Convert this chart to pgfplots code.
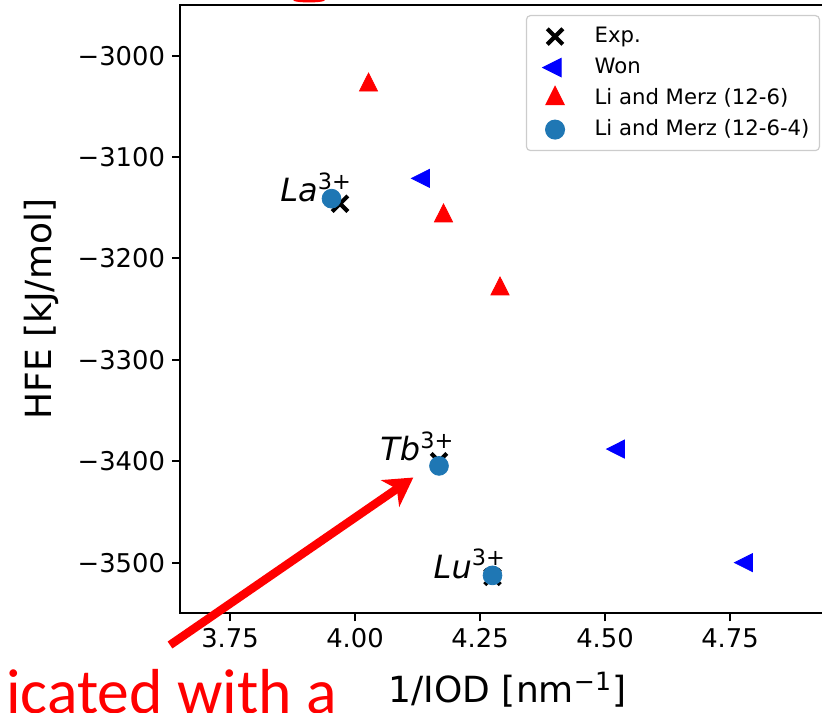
\documentclass[border=0pt]{standalone}
\usepackage{pgfplots}
\pgfplotsset{compat=1.18}
\usepackage{fontspec}
\setmainfont{DejaVu Sans}[ItalicFont={DejaVu Sans Oblique}]
\newfontfamily\carlito{Carlito}
\usetikzlibrary{arrows.meta}
\definecolor{mplblue}{HTML}{1F77B4}
\definecolor{legendgray}{HTML}{CCCCCC}
\begin{document}
\begin{tikzpicture}
\begin{axis}[
  at={(90pt,-306.65pt)}, anchor=south west,
  scale only axis, width=324pt, height=304.15pt,
  xmin=3.65, xmax=4.946, ymin=-3550, ymax=-2950,
  xtick={3.75,4.00,4.25,4.50,4.75},
  xticklabels={3.75,4.00,4.25,4.50,4.75},
  ytick={-3500,-3400,-3300,-3200,-3100,-3000},
  yticklabels={−3500,−3400,−3300,−3200,−3100,−3000},
  tick align=outside, major tick length=4pt,
  xtick pos=bottom, ytick pos=left,
  tick style={line width=1pt, black},
  axis line style={line width=1.1pt},
  ticklabel style={font=\fontsize{12.9}{15}\selectfont},
  xlabel={1/IOD [nm\textsuperscript{−1}]},
  ylabel={HFE [kJ/mol]},
  label style={font=\fontsize{18}{22}\selectfont},
  xlabel style={at={(axis description cs:0.5054,-0.147)}, anchor=base},
  ylabel style={at={(axis description cs:-0.198,0.5)}, anchor=base},
  legend image code/.code={%
    \path (0pt,0pt) (18pt,0pt);
    \draw[#1] plot coordinates {(9pt,0pt)};},
  legend style={at={(axis description cs:0.9877,0.9836)}, anchor=north east,
    draw=legendgray, line width=0.6pt, rounded corners=2pt, fill=white,
    font=\fontsize{10.6}{13}\selectfont,
    nodes={inner sep=0pt, text height=9pt, text depth=3pt},
    row sep=3.5pt, /tikz/column sep=10.5pt, inner xsep=5pt, inner ysep=4.5pt},
  legend cell align=left,
]
\addplot[only marks, black, mark=x, mark size=5.5pt, mark options={line width=2.1pt}]
  coordinates {(3.970,-3146) (4.168,-3400) (4.275,-3514)};
\addlegendentry{Exp.}
\addplot[only marks, blue, mark=triangle*, mark size=5.2pt, mark options={rotate=90, yscale=1.15}]
  coordinates {(4.137,-3121) (4.527,-3388) (4.783,-3500)};
\addlegendentry{Won}
\addplot[only marks, red, mark=triangle*, mark size=5.2pt, mark options={yscale=1.15}]
  coordinates {(4.027,-3029) (4.177,-3158) (4.290,-3230)};
\addlegendentry{Li and Merz (12-6)}
\addplot[only marks, mplblue, mark=*, mark size=4.7pt]
  coordinates {(3.953,-3141) (4.168,-3404.6) (4.275,-3512.6)};
\addlegendentry{Li and Merz (12-6-4)}
\node[anchor=base west, inner sep=0pt, font=\fontsize{16}{18}\selectfont] at (axis cs:3.85,-3144) {\textit{La}\textsuperscript{3+}};
\node[anchor=base west, inner sep=0pt, font=\fontsize{16}{18}\selectfont] at (axis cs:4.05,-3399.7) {\textit{Tb}\textsuperscript{3+}};
\node[anchor=base west, inner sep=0pt, font=\fontsize{16}{18}\selectfont] at (axis cs:4.1566,-3515.4) {\textit{Lu}\textsuperscript{3+}};
\end{axis}
\draw[red, line width=4.2pt, -{Stealth[length=14pt,width=16pt,inset=4pt]}] (85pt,-322.5pt) -- (206.65pt,-238.75pt);
\node[anchor=base west, inner sep=0pt, text=red, font=\carlito\fontsize{31.8}{36}\selectfont] at (3pt,-356.5pt) {icated with a};
\draw[red, line width=1.2pt] (147pt,0.3pt) arc[start angle=180, end angle=360, x radius=7.5pt, y radius=0.9pt];
\pgfresetboundingbox
\useasboundingbox (0pt,0pt) rectangle (411pt,-356pt);
\end{tikzpicture}
\end{document}
